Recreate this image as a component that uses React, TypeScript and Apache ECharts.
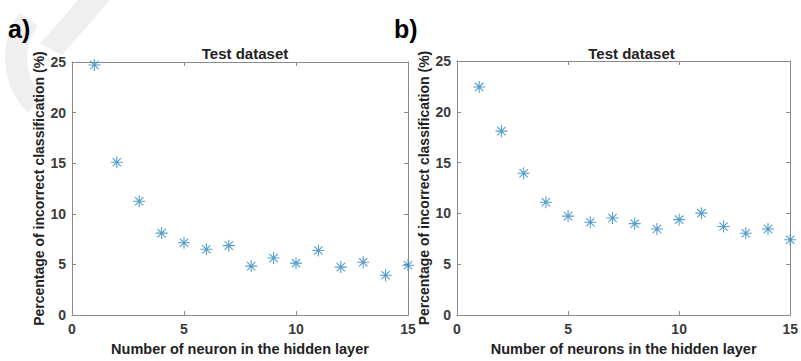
import React, { useEffect, useRef } from "react";
import * as echarts from "echarts";

const neuronsA = [1, 2, 3, 4, 5, 6, 7, 8, 9, 10, 11, 12, 13, 14, 15];
const errorA = [24.7, 15.1, 11.25, 8.1, 7.15, 6.5, 6.86, 4.84, 5.64, 5.13, 6.38, 4.74, 5.22, 3.94, 4.93];
const neuronsB = [1, 2, 3, 4, 5, 6, 7, 8, 9, 10, 11, 12, 13, 14, 15];
const errorB = [22.45, 18.1, 13.95, 11.1, 9.74, 9.13, 9.55, 9.0, 8.47, 9.39, 10.03, 8.72, 8.05, 8.47, 7.41];
const panelLabels = ["a)", "b)"];
const titles = ["Test dataset", "Test dataset"];
const xNames = ["Number of neuron in the hidden layer", "Number of neurons in the hidden layer"];
const yName = "Percentage of incorrect classification (%)";

const STAR =
  "path://M4.55 0H5.45V10H4.55Z M0 4.55H10V5.45H0Z M1.2 1.85L1.85 1.2L8.8 8.15L8.15 8.8Z M8.15 1.2L8.8 1.85L1.85 8.8L1.2 8.15Z";

export default function App() {
  const ref = useRef<HTMLDivElement>(null);
  useEffect(() => {
    const chart = echarts.init(ref.current!, null, { renderer: "svg" });
    const font = "Liberation Sans, Arial, sans-serif";
    const axisColor = "#8a8a8a";
    const labelColor = "#3a3a3a";
    const grids = [
      { left: 72, top: 62, width: 336, height: 260 },
      { left: 457, top: 61, width: 339, height: 261 },
    ];
    const xAxes: any[] = [];
    const yAxes: any[] = [];
    grids.forEach((g, i) => {
      xAxes.push({
        gridIndex: i,
        type: "value",
        min: 0,
        max: 15,
        interval: 5,
        position: "bottom",
        name: xNames[i],
        nameLocation: "middle",
        nameGap: 24,
        nameTextStyle: { fontFamily: font, fontWeight: "bold", fontSize: 14.5, color: "#222" },
        axisLine: { show: true, onZero: false, lineStyle: { color: axisColor, width: 1 } },
        axisTick: { show: true, inside: true, length: 4, lineStyle: { color: axisColor } },
        axisLabel: { fontFamily: font, fontWeight: "bold", fontSize: 14, color: labelColor, margin: 7 },
        splitLine: { show: false },
      });
      xAxes.push({
        gridIndex: i,
        type: "value",
        min: 0,
        max: 15,
        interval: 5,
        position: "top",
        axisLine: { show: true, onZero: false, lineStyle: { color: axisColor, width: 1 } },
        axisTick: { show: true, inside: true, length: 4, lineStyle: { color: axisColor } },
        axisLabel: { show: false },
        splitLine: { show: false },
      });
      yAxes.push({
        gridIndex: i,
        type: "value",
        min: 0,
        max: 25,
        interval: 5,
        position: "left",
        name: yName,
        nameLocation: "middle",
        nameGap: 26,
        nameTextStyle: { fontFamily: font, fontWeight: "bold", fontSize: 14, color: "#222" },
        axisLine: { show: true, onZero: false, lineStyle: { color: axisColor, width: 1 } },
        axisTick: { show: true, inside: true, length: 4, lineStyle: { color: axisColor } },
        axisLabel: { fontFamily: font, fontWeight: "bold", fontSize: 14, color: labelColor, margin: 6 },
        splitLine: { show: false },
      });
      yAxes.push({
        gridIndex: i,
        type: "value",
        min: 0,
        max: 25,
        interval: 5,
        position: "right",
        axisLine: { show: true, onZero: false, lineStyle: { color: axisColor, width: 1 } },
        axisTick: { show: true, inside: true, length: 4, lineStyle: { color: axisColor } },
        axisLabel: { show: false },
        splitLine: { show: false },
      });
    });
    const mk = (xs: number[], ys: number[]) => xs.map((x, k) => [x, ys[k]]);
    chart.setOption({
      animation: false,
      backgroundColor: "#ffffff",
      grid: grids,
      title: titles.map((t, i) => ({
        text: t,
        left: grids[i].left + grids[i].width / 2,
        top: 41,
        textAlign: "center",
        textStyle: { fontFamily: font, fontWeight: "bold", fontSize: 15, color: "#222" },
      })),
      graphic: [
        {
          type: "polygon",
          silent: true,
          z: -10,
          shape: { points: [[78, 0], [110, 0], [62, 55], [40, 44]] },
          style: { fill: "#efefef" },
        },
        {
          type: "arc",
          silent: true,
          z: -10,
          shape: { cx: 82, cy: 58, r: 66, startAngle: Math.PI * 0.75, endAngle: Math.PI * 1.2 },
          style: { stroke: "#efefef", lineWidth: 22, fill: "none" },
        },
        {
          type: "text",
          left: 8,
          top: 16,
          style: { text: panelLabels[0], font: "bold 25px Liberation Sans, Arial, sans-serif", fill: "#000" },
        },
        {
          type: "text",
          left: 394,
          top: 16,
          style: { text: panelLabels[1], font: "bold 25px Liberation Sans, Arial, sans-serif", fill: "#000" },
        },
      ],
      xAxis: xAxes,
      yAxis: yAxes,
      series: [
        {
          type: "scatter",
          xAxisIndex: 0,
          yAxisIndex: 0,
          data: mk(neuronsA, errorA),
          symbol: STAR,
          symbolSize: 12,
          itemStyle: { color: "#2a86c0" },
        },
        {
          type: "scatter",
          xAxisIndex: 2,
          yAxisIndex: 2,
          data: mk(neuronsB, errorB),
          symbol: STAR,
          symbolSize: 12,
          itemStyle: { color: "#2a86c0" },
        },
      ],
    });
    return () => chart.dispose();
  }, []);
  return (
    <div
      ref={ref}
      style={{ position: "fixed", left: 0, top: 0, width: 801, height: 361, background: "#fff" }}
    />
  );
}
